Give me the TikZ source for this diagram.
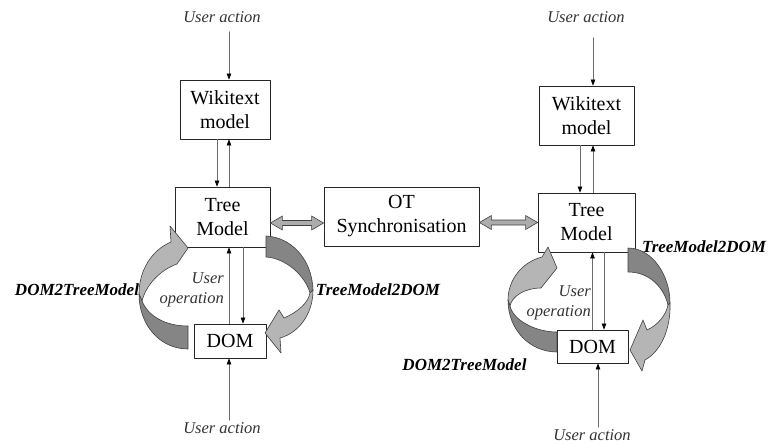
\documentclass[tikz,border=0pt]{standalone}
\usepackage{fontspec}
\setmainfont{Liberation Serif}
\usetikzlibrary{arrows.meta,calc}
\definecolor{lightband}{rgb}{0.71,0.71,0.71}
\definecolor{darkband}{rgb}{0.52,0.52,0.52}
\definecolor{linegray}{rgb}{0.42,0.42,0.42}
\tikzset{
    model/.style = {draw=black!85, line width=0.8pt, fill=white, align=center, inner sep=0pt, font=\fontsize{20}{24}\selectfont},
    action/.style = {inner sep=2pt, text=black!80, font=\fontsize{16.5}{20}\selectfont\itshape},
    convert/.style = {inner sep=1pt, font=\fontsize{17}{20}\selectfont\bfseries\itshape},
    flow/.style = {draw=linegray, line width=0.7pt, -{Triangle[length=6pt,width=4.5pt,color=black]}},
    band/.style = {draw=black!75, line width=0.6pt},
}
\newcommand{\syncarrow}[2]{%
  \path[fill=gray!65, draw=black!75, line width=0.6pt] let \p1 = (#1), \p2 = (#2) in
    (\x1,\y1) -- (\x1+12pt,\y1+7pt) -- (\x1+12pt,\y1+2.5pt) -- (\x2-12pt,\y1+2.5pt)
    -- (\x2-12pt,\y1+7pt) -- (\x2,\y1) -- (\x2-12pt,\y1-7pt) -- (\x2-12pt,\y1-2.5pt)
    -- (\x1+12pt,\y1-2.5pt) -- (\x1+12pt,\y1-7pt) -- cycle;}
\begin{document}
\begin{tikzpicture}[line cap=round, line join=round, x=1pt, y=-1pt]
\useasboundingbox (0,0) rectangle (768,444);
% left client
\node[action] (ua1) at (222,17) {User action};
\node[model, minimum width=90pt, minimum height=59pt] (wl) at (225,109.5) {Wikitext\\model};
\node[model, minimum width=95pt, minimum height=60pt] (tl) at (222.5,217) {Tree\\Model};
\node[model, minimum width=72pt, minimum height=34pt] (dl) at (230,341) {DOM};
\node[action] (ua2) at (222,428) {User action};
\node[action, anchor=east, align=right, inner sep=1pt] (uol) at (225,290) {User\\operation};
\node[convert] (d2tl) at (77,290) {DOM2TreeModel};
\node[convert] (t2dl) at (378,290) {TreeModel2DOM};
% server
\node[model, minimum width=155pt, minimum height=59pt] (ot) at (401.5,216.5) {OT\\Synchronisation};
% right client
\node[action] (ua3) at (586,17) {User action};
\node[model, minimum width=95pt, minimum height=59pt] (wr) at (586.5,115.5) {Wikitext\\model};
\node[model, minimum width=97pt, minimum height=59pt] (tr) at (586.5,222.5) {Tree\\Model};
\node[model, minimum width=71pt, minimum height=33pt] (dr) at (592.5,346.5) {DOM};
\node[action] (ua4) at (592,435) {User action};
\node[action, anchor=east, align=right, inner sep=1pt] (uor) at (592,303) {User\\operation};
\node[convert] (t2dr) at (704,247) {TreeModel2DOM};
\node[convert] (d2tr) at (464.5,365) {DOM2TreeModel};
% straight arrows, left
\draw[flow] ([xshift=7pt, yshift=-7pt]ua1.south) -- ([xshift=4pt]wl.north);
\draw[flow] ([xshift=-8pt]wl.south) -- ([xshift=-8pt]wl.south |- tl.north);
\draw[flow] ([xshift=4pt]wl.south |- tl.north) -- ([xshift=4pt]wl.south);
\draw[flow] ([xshift=13pt]dl.north |- tl.south) -- ([xshift=13pt]dl.north);
\draw[flow] ([xshift=-1pt]dl.north) -- ([xshift=-1pt]dl.north |- tl.south);
\draw[flow] ([xshift=7pt]ua2.north) -- ([xshift=7pt]ua2.north |- dl.south);
% straight arrows, right
\draw[flow] ([xshift=7pt, yshift=-13pt]ua3.south) -- ([xshift=7pt]ua3.south |- wr.north);
\draw[flow] ([xshift=-6.5pt]wr.south) -- ([xshift=-6.5pt]wr.south |- tr.north);
\draw[flow] ([xshift=6.5pt]wr.south |- tr.north) -- ([xshift=6.5pt]wr.south);
\draw[flow] ([xshift=11.5pt]dr.north |- tr.south) -- ([xshift=11.5pt]dr.north);
\draw[flow] (dr.north) -- (dr.north |- tr.south);
\draw[flow] ([xshift=6pt]ua4.north) -- ([xshift=6pt]ua4.north |- dr.south);
% synchronisation
\syncarrow{[yshift=-6pt]tl.east}{[yshift=-6pt]tl.east -| ot.west}
\syncarrow{ot.east |- tr.west}{tr.west}
% curved arrows, left
\draw[band, fill=lightband] (139,294) .. controls (139,270) and (152,250) .. (171,242) -- (170,226) -- (188,248) -- (177,264) .. controls (160,270) and (146,285) .. (142,301) -- cycle;
\draw[band, fill=darkband] (139,294) .. controls (139,325) and (160,349) .. (188,349) -- (188,326) .. controls (165,326) and (148,316) .. (142,301) -- cycle;
\draw[band, fill=darkband] (266,236) .. controls (290,237) and (312,258) .. (313,290) -- (310,293) .. controls (305,275) and (285,258) .. (266,257) -- cycle;
\draw[band, fill=lightband] (313,290) .. controls (313,315) and (298,333) .. (280,338) -- (281,353) -- (265,333) -- (279,310) -- (284,318) .. controls (298,312) and (308,303) .. (310,293) -- cycle;
% curved arrows, right
\draw[band, fill=lightband] (508,300) .. controls (508,280) and (522,262) .. (542,257) -- (548,247) -- (557,268) -- (541,288) .. controls (525,288) and (512,296) .. (510,306) -- cycle;
\draw[band, fill=darkband] (508,300) .. controls (508,330) and (530,352) .. (557,352) -- (557,332) .. controls (535,332) and (513,320) .. (510,306) -- cycle;
\draw[band, fill=darkband] (628,248) .. controls (652,248) and (670,275) .. (670,303) -- (668,305) .. controls (664,288) and (650,272) .. (628,272) -- cycle;
\draw[band, fill=lightband] (670,303) .. controls (671,330) and (660,352) .. (645,360) -- (642,371) -- (630,350) -- (643,320) -- (647,330) .. controls (658,325) and (666,315) .. (668,305) -- cycle;
\end{tikzpicture}
\end{document}
